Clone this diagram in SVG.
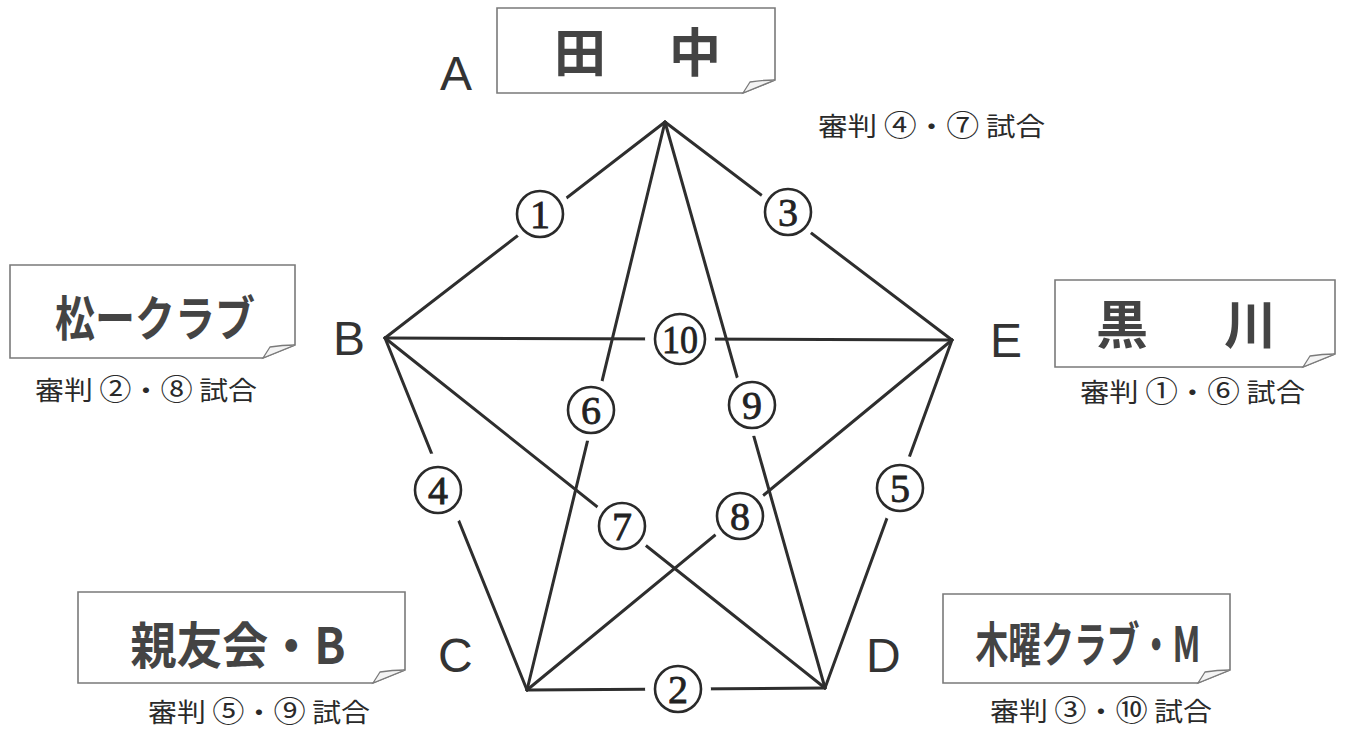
<svg xmlns="http://www.w3.org/2000/svg" width="1345" height="731" viewBox="0 0 1345 731">
<style>
.bg{fill:#ffffff}
.edge{stroke:#2e2e2e;stroke-width:3;fill:none;stroke-linecap:round}
.gap{fill:#ffffff;stroke:none}
.lbl{fill:#ffffff;stroke:#2a2a2a;stroke-width:2.6}
.num{font-family:"Liberation Serif","DejaVu Serif",serif;font-size:40px;fill:#222;stroke:#222;stroke-width:0.8;text-anchor:middle}
.box{fill:#ffffff;stroke:#7a7a7a;stroke-width:1.6}
.fold{fill:#f4f4f4;stroke:#7a7a7a;stroke-width:1.3}
.name{font-family:"Noto Sans CJK JP","Noto Sans",sans-serif;font-weight:bold;fill:#444;text-anchor:middle}
.ref{font-family:"Noto Sans CJK JP","Noto Sans",sans-serif;font-size:26px;fill:#2a2a2a}
.cd{font-size:29px}
.vtx{font-family:"Liberation Sans","Noto Sans",sans-serif;font-size:48px;fill:#333}
</style>
<rect class="bg" x="0" y="0" width="1345" height="731"/>

<g id="connectors">
  <line class="edge" x1="665" y1="122" x2="385" y2="338"/>
  <line class="edge" x1="665" y1="122" x2="952" y2="340"/>
  <line class="edge" x1="385" y1="338" x2="952" y2="340"/>
  <line class="edge" x1="385" y1="338" x2="527" y2="690"/>
  <line class="edge" x1="952" y1="340" x2="825" y2="688"/>
  <line class="edge" x1="527" y1="690" x2="825" y2="688"/>
  <line class="edge" x1="665" y1="122" x2="527" y2="690"/>
  <line class="edge" x1="665" y1="122" x2="825" y2="688"/>
  <line class="edge" x1="385" y1="338" x2="825" y2="688"/>
  <line class="edge" x1="952" y1="340" x2="527" y2="690"/>
</g>

<g id="match-labels">
  <g id="m1"><circle class="gap" cx="540" cy="214" r="31"/><circle class="lbl" cx="540" cy="214" r="23"/><text class="num" x="540" y="228">1</text></g>
  <g id="m3"><circle class="gap" cx="788" cy="212" r="31"/><circle class="lbl" cx="788" cy="212" r="23"/><text class="num" x="788" y="226">3</text></g>
  <g id="m10"><circle class="gap" cx="680" cy="339" r="35"/><circle class="lbl" cx="680" cy="339" r="25"/><text class="num" x="680" y="353" textLength="36" lengthAdjust="spacingAndGlyphs">10</text></g>
  <g id="m6"><circle class="gap" cx="591" cy="410" r="31"/><circle class="lbl" cx="591" cy="410" r="23"/><text class="num" x="591" y="424">6</text></g>
  <g id="m9"><circle class="gap" cx="752" cy="405" r="31"/><circle class="lbl" cx="752" cy="405" r="23"/><text class="num" x="752" y="419">9</text></g>
  <g id="m4"><circle class="gap" cx="438" cy="490" r="37"/><circle class="lbl" cx="438" cy="490" r="23"/><text class="num" x="438" y="504">4</text></g>
  <g id="m7"><circle class="gap" cx="622" cy="526" r="31"/><circle class="lbl" cx="622" cy="526" r="23"/><text class="num" x="622" y="540">7</text></g>
  <g id="m8"><circle class="gap" cx="740" cy="516" r="31"/><circle class="lbl" cx="740" cy="516" r="23"/><text class="num" x="740" y="530">8</text></g>
  <g id="m5"><circle class="gap" cx="900" cy="488" r="33"/><circle class="lbl" cx="900" cy="488" r="23"/><text class="num" x="900" y="502">5</text></g>
  <g id="m2"><circle class="gap" cx="678" cy="689" r="33"/><circle class="lbl" cx="678" cy="689" r="23"/><text class="num" x="678" y="703">2</text></g>
</g>

<g id="nodeA">
  <text class="vtx" x="440" y="90">A</text>
  <path class="box" d="M497,8 H775 V80 L743,93 H497 Z"/>
  <path class="fold" d="M743,93 L750,82 Q762,80 775,80 Z"/>
  <text class="name" font-size="52" x="580 695" y="72">田中</text>
  <text class="ref" x="818" y="136" textLength="227" lengthAdjust="spacingAndGlyphs">審判 <tspan class="cd">④</tspan>・<tspan class="cd">⑦</tspan> 試合</text>
</g>

<g id="nodeB">
  <text class="vtx" x="333" y="355">B</text>
  <path class="box" d="M10,265 H295 V345 L263,358 H10 Z"/>
  <path class="fold" d="M263,358 L270,347 Q282,345 295,345 Z"/>
  <text class="name" font-size="48" x="155" y="336" textLength="200" lengthAdjust="spacingAndGlyphs">松ークラブ</text>
  <text class="ref" x="35" y="400" textLength="222" lengthAdjust="spacingAndGlyphs">審判 <tspan class="cd">②</tspan>・<tspan class="cd">⑧</tspan> 試合</text>
</g>

<g id="nodeE">
  <text class="vtx" x="990" y="357">E</text>
  <path class="box" d="M1055,280 H1335 V354 L1303,367 H1055 Z"/>
  <path class="fold" d="M1303,367 L1310,356 Q1322,354 1335,354 Z"/>
  <text class="name" font-size="52" x="1122 1250" y="344">黒川</text>
  <text class="ref" x="1080" y="402" textLength="225" lengthAdjust="spacingAndGlyphs">審判 <tspan class="cd">①</tspan>・<tspan class="cd">⑥</tspan> 試合</text>
</g>

<g id="nodeC">
  <text class="vtx" x="438" y="672">C</text>
  <path class="box" d="M78,592 H405 V670 L373,683 H78 Z"/>
  <path class="fold" d="M373,683 L380,672 Q392,670 405,670 Z"/>
  <text class="name" font-size="50" x="238" y="664" textLength="215" lengthAdjust="spacingAndGlyphs">親友会・B</text>
  <text class="ref" x="148" y="722" textLength="222" lengthAdjust="spacingAndGlyphs">審判 <tspan class="cd">⑤</tspan>・<tspan class="cd">⑨</tspan> 試合</text>
</g>

<g id="nodeD">
  <text class="vtx" x="866" y="672">D</text>
  <path class="box" d="M943,594 H1230 V670 L1198,683 H943 Z"/>
  <path class="fold" d="M1198,683 L1205,672 Q1217,670 1230,670 Z"/>
  <text class="name" font-size="48" x="1088" y="662" textLength="225" lengthAdjust="spacingAndGlyphs">木曜クラブ・M</text>
  <text class="ref" x="990" y="721" textLength="222" lengthAdjust="spacingAndGlyphs">審判 <tspan class="cd">③</tspan>・<tspan class="cd">⑩</tspan> 試合</text>
</g>
</svg>
